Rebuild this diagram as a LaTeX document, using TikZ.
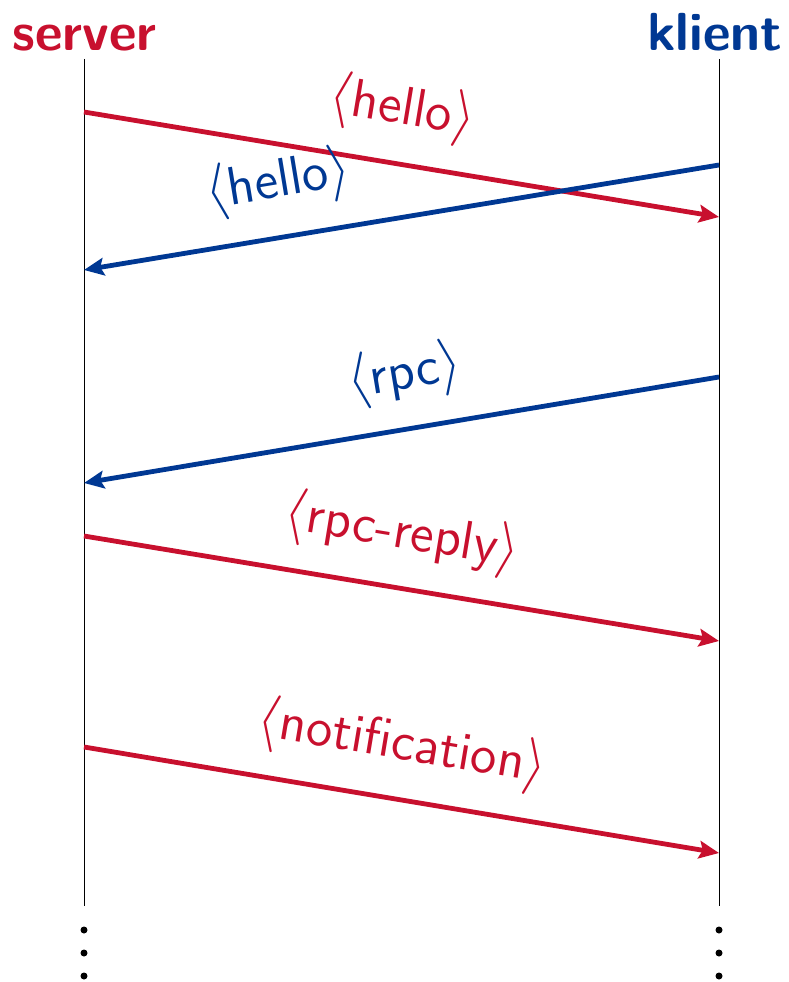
\documentclass[tikz,border=0pt]{standalone}
\usetikzlibrary{arrows.meta}
\definecolor{srvred}{RGB}{200,16,46}
\definecolor{kliblue}{RGB}{0,56,147}
\begin{document}
\begin{tikzpicture}[x=0.25pt,y=-0.25pt,
  life/.style={line width=0.25pt,black},
  msg/.style={line width=1.2pt,-{Stealth[length=5pt,width=4.4pt,inset=0.9pt]}},
  lbl/.style={font=\sffamily\fontsize{13.5}{16}\selectfont,above=2.5pt,sloped},
  title/.style={font=\sffamily\bfseries\fontsize{13.4}{16}\selectfont,anchor=base},
  dot/.style={circle,fill=black,inner sep=0pt,minimum size=1.75pt}]
\useasboundingbox (0,0) rectangle (789,982);
\node[title,anchor=base west,text=srvred,inner sep=0pt] (srv) at (12,51) {server};
\node[title,anchor=base east,text=kliblue,inner sep=0pt] (kli) at (783,51) {klient};
\coordinate (s0) at (84,59); \coordinate (s1) at (84,906);
\coordinate (k0) at (719,59); \coordinate (k1) at (719,906);
\draw[life] (s0) -- (s1);
\draw[life] (k0) -- (k1);
\coordinate (a1) at (84,112); \coordinate (b1) at (719,217);
\coordinate (a2) at (719,165); \coordinate (b2) at (84,270);
\coordinate (a3) at (719,377); \coordinate (b3) at (84,483);
\coordinate (a4) at (84,536); \coordinate (b4) at (719,641);
\coordinate (a5) at (84,747); \coordinate (b5) at (719,853);
\draw[msg,srvred] (a1) -- node[lbl,pos=0.487] {$\langle$hello$\rangle$} (b1);
\draw[msg,kliblue] (a2) -- node[lbl,pos=0.68] {$\langle$hello$\rangle$} (b2);
\draw[msg,kliblue] (a3) -- node[lbl,pos=0.481] {$\langle$rpc$\rangle$} (b3);
\draw[msg,srvred] (a4) -- node[lbl,pos=0.487] {$\langle$rpc-reply$\rangle$} (b4);
\draw[msg,srvred] (a5) -- node[lbl,pos=0.487] {$\langle$notification$\rangle$} (b5);
\foreach \y [count=\i] in {930,953,976} {
  \node[dot] (ds\i) at (84,\y) {};
  \node[dot] (dk\i) at (719,\y) {};
}
\end{tikzpicture}
\end{document}
